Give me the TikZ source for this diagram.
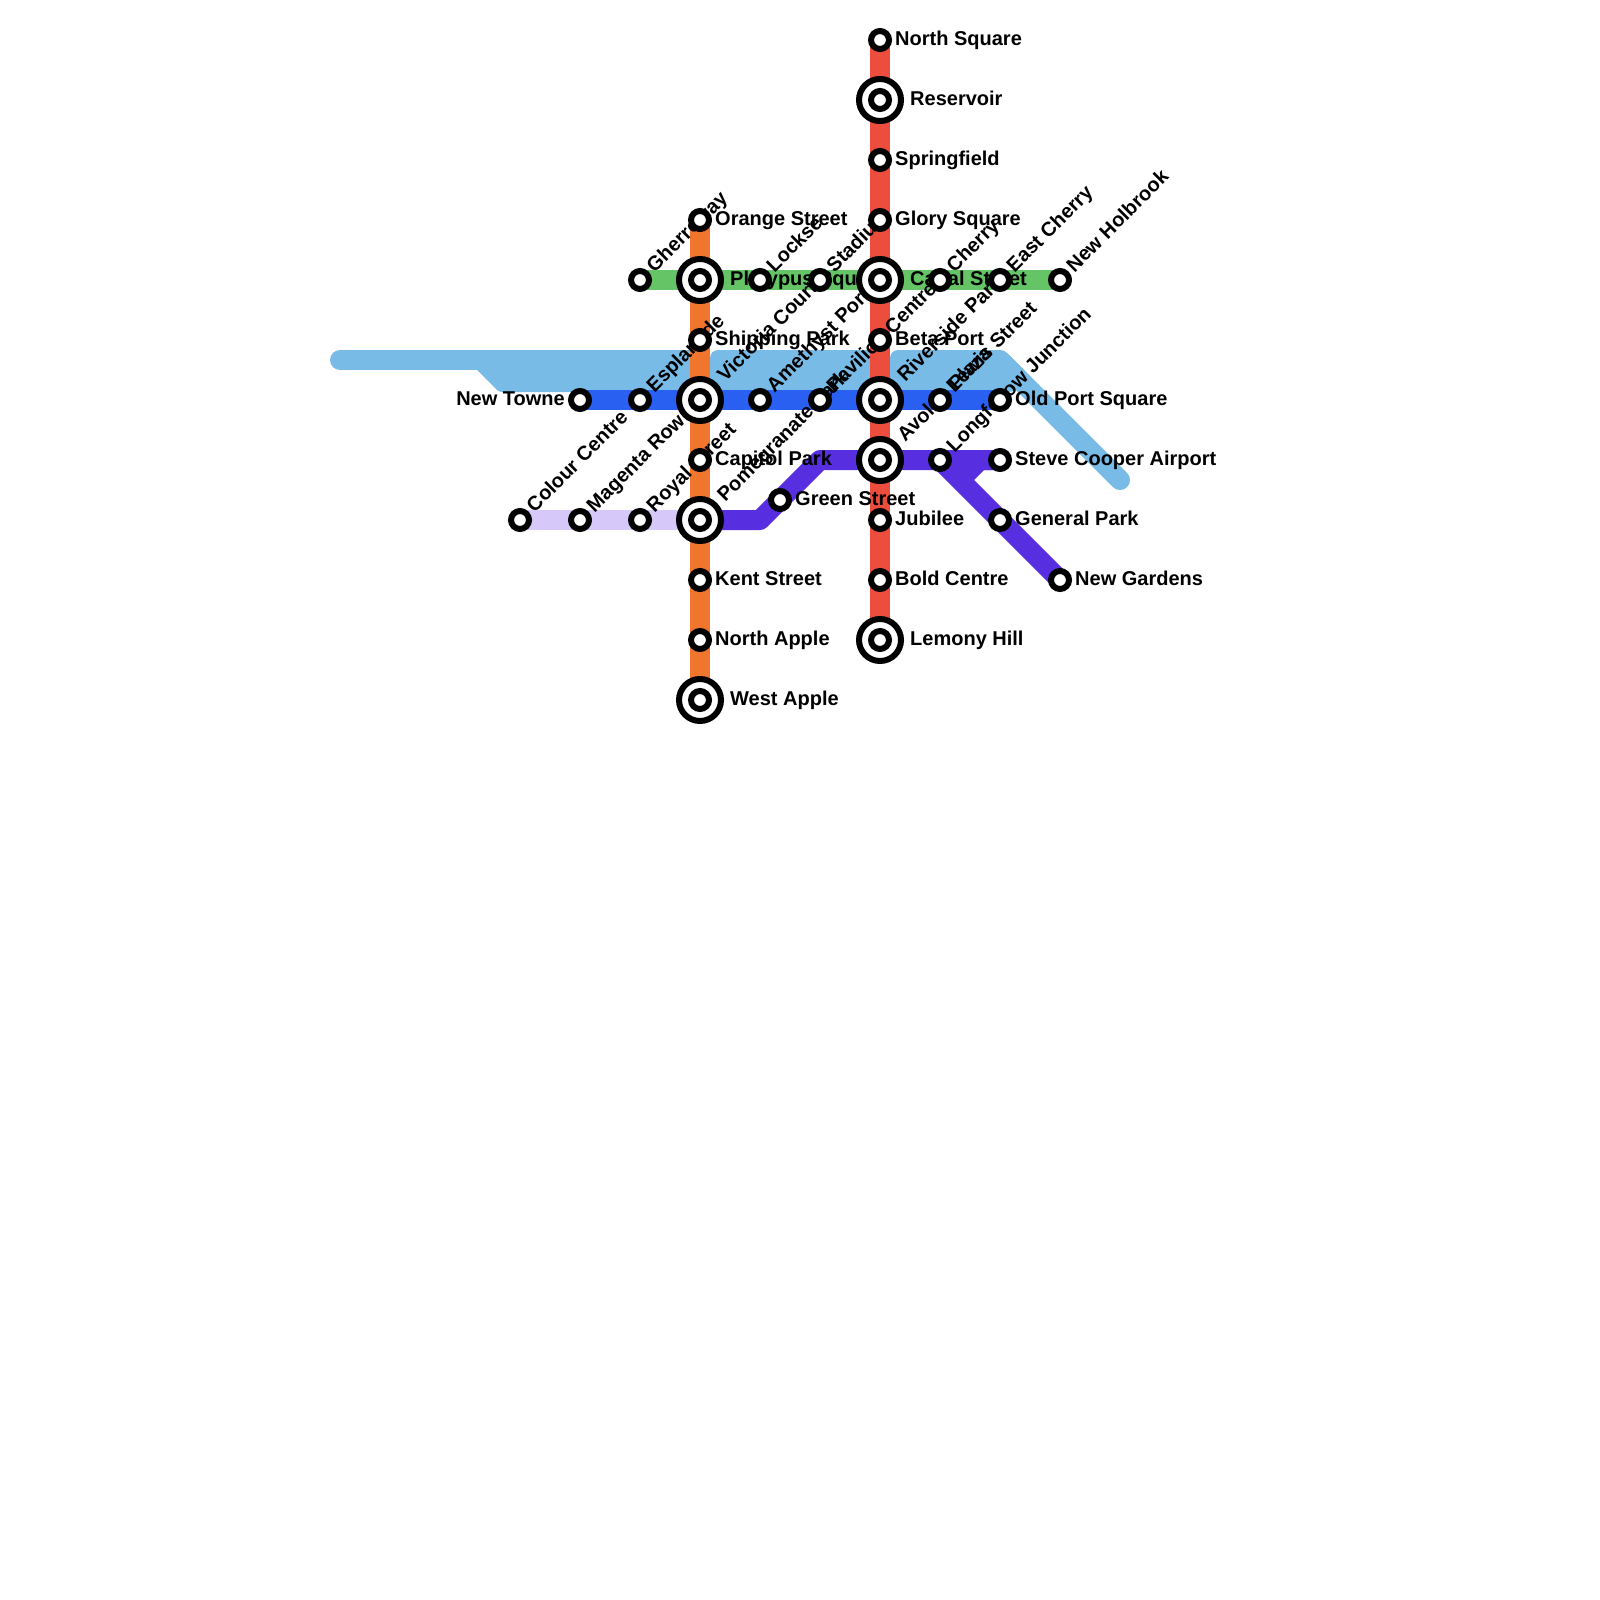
\documentclass[tikz,border=0pt]{standalone}
\usepackage{fontspec}
\setmainfont{Liberation Sans}
\definecolor{lred}{HTML}{EC4D3C}
\definecolor{lorange}{HTML}{F0752D}
\definecolor{lgreen}{HTML}{64C466}
\definecolor{lblue}{HTML}{2A60F2}
\definecolor{lpurple}{HTML}{572FE0}
\definecolor{llilac}{HTML}{D6C9F9}
\definecolor{lsky}{HTML}{78BBE7}
\tikzset{
  metro/.style={line width=20pt,line join=round},
  st/.style={circle,draw=black,fill=white,line width=6pt,minimum size=18pt,inner sep=0pt},
  xring/.style={circle,draw=black,fill=white,line width=6pt,minimum size=42pt,inner sep=0pt},
  lab/.style={font=\fontsize{20}{24}\selectfont\bfseries,inner sep=0pt,text=black},
  lr/.style={lab,anchor=base west},
  ll/.style={lab,anchor=base east},
  ld/.style={lab,anchor=base west,rotate=45},
}
% station helpers: name, x, y, text
\newcommand{\stR}[4]{\node[lr] at (#2+15,#3+5.5) {#4};\coordinate (#1) at (#2,#3);}
\newcommand{\stD}[4]{\node[ld] at (#2+14.5,#3-6.7) {#4};\coordinate (#1) at (#2,#3);}
\newcommand{\xcR}[4]{\node[lr] at (#2+30,#3+5.5) {#4};\coordinate (#1) at (#2,#3);}
\newcommand{\xcD}[4]{\node[ld] at (#2+25.1,#3-17.3) {#4};\coordinate (#1) at (#2,#3);}
\begin{document}
\begin{tikzpicture}[x=1pt,y=-1pt]
\useasboundingbox (0,0) rectangle (1600,1600);
% sky-blue line
\draw[lsky,metro,line cap=round] (340,360) -- (485,360);
\fill[lsky] (470,350) -- (705,350) -- (705,392) -- (503,392) to[rounded corners=3pt] (499,392) -- (477,370) -- cycle;
\fill[lsky,rounded corners=8pt] (710,350) -- (885,350) -- (885,392) -- (710,392) -- cycle;
\fill[lsky,rounded corners=8pt] (890,350) -- (1004,350) -- (1030,376) -- (1016,392) -- (890,392) -- cycle;
\draw[lsky,metro,line cap=round] (1000,360) -- (1120,480);
% other lines
\draw[llilac,metro] (520,520) -- (700,520);
\draw[lorange,metro] (700,220) -- (700,700);
\draw[lgreen,metro] (640,280) -- (1060,280);
\draw[lblue,metro] (580,400) -- (1000,400);
\draw[lpurple,metro] (700,520) -- (760,520) -- (820,460) -- (1000,460);
\draw[lpurple,metro] (940,460) -- (1060,580);
\draw[lpurple,metro] (1000,460) -- (980,460) -- (960,480);
\draw[lred,metro] (880,40) -- (880,640);
% labels
\stR{a1}{700}{220}{Orange Street}
\xcR{a2}{700}{280}{Platypus Square}
\stR{a3}{700}{340}{Shipping Park}
\xcD{a4}{700}{400}{Victoria Court}
\stR{a5}{700}{460}{Capitol Park}
\xcD{a6}{700}{520}{Pomegranate Park}
\stR{a7}{700}{580}{Kent Street}
\stR{a8}{700}{640}{North Apple}
\xcR{a9}{700}{700}{West Apple}
\stR{r1}{880}{40}{North Square}
\xcR{r2}{880}{100}{Reservoir}
\stR{r3}{880}{160}{Springfield}
\stR{r4}{880}{220}{Glory Square}
\xcR{r5}{880}{280}{Canal Street}
\stR{r6}{880}{340}{Beta Port}
\xcD{r7}{880}{400}{Riverside Park}
\xcD{r8}{880}{460}{Avolon Plaza}
\stR{r9}{880}{520}{Jubilee}
\stR{r10}{880}{580}{Bold Centre}
\xcR{r11}{880}{640}{Lemony Hill}
\stD{g1}{640}{280}{Gherroway}
\stD{g2}{760}{280}{Lockse}
\stD{g3}{820}{280}{Stadium}
\stD{g4}{940}{280}{Cherry}
\stD{g5}{1000}{280}{East Cherry}
\stD{g6}{1060}{280}{New Holbrook}
\node[ll] at (565,405.5) {New Towne};
\coordinate (b1) at (580,400);
\stD{b2}{640}{400}{Esplanade}
\stD{b3}{760}{400}{Amethyst Port}
\stD{b4}{820}{400}{Pavilion Centre}
\stD{b5}{940}{400}{Lewis Street}
\stR{b6}{1000}{400}{Old Port Square}
\stD{l1}{520}{520}{Colour Centre}
\stD{l2}{580}{520}{Magenta Row}
\stD{l3}{640}{520}{Royal Street}
\stR{p1}{780}{500}{Green Street}
\stD{p2}{940}{460}{Longfellow Junction}
\stR{p3}{1000}{460}{Steve Cooper Airport}
\stR{p4}{1000}{520}{General Park}
\stR{p5}{1060}{580}{New Gardens}
% stations
\foreach \n in {a1,a3,a5,a7,a8,r1,r3,r4,r6,r9,r10,g1,g2,g3,g4,g5,g6,b1,b2,b3,b4,b5,b6,l1,l2,l3,p1,p2,p3,p4,p5}
  \node[st] at (\n) {};
\foreach \n in {a2,a4,a6,a9,r2,r5,r7,r8,r11} {
  \node[xring] at (\n) {};
  \node[st] at (\n) {};
}
\end{tikzpicture}
\end{document}
